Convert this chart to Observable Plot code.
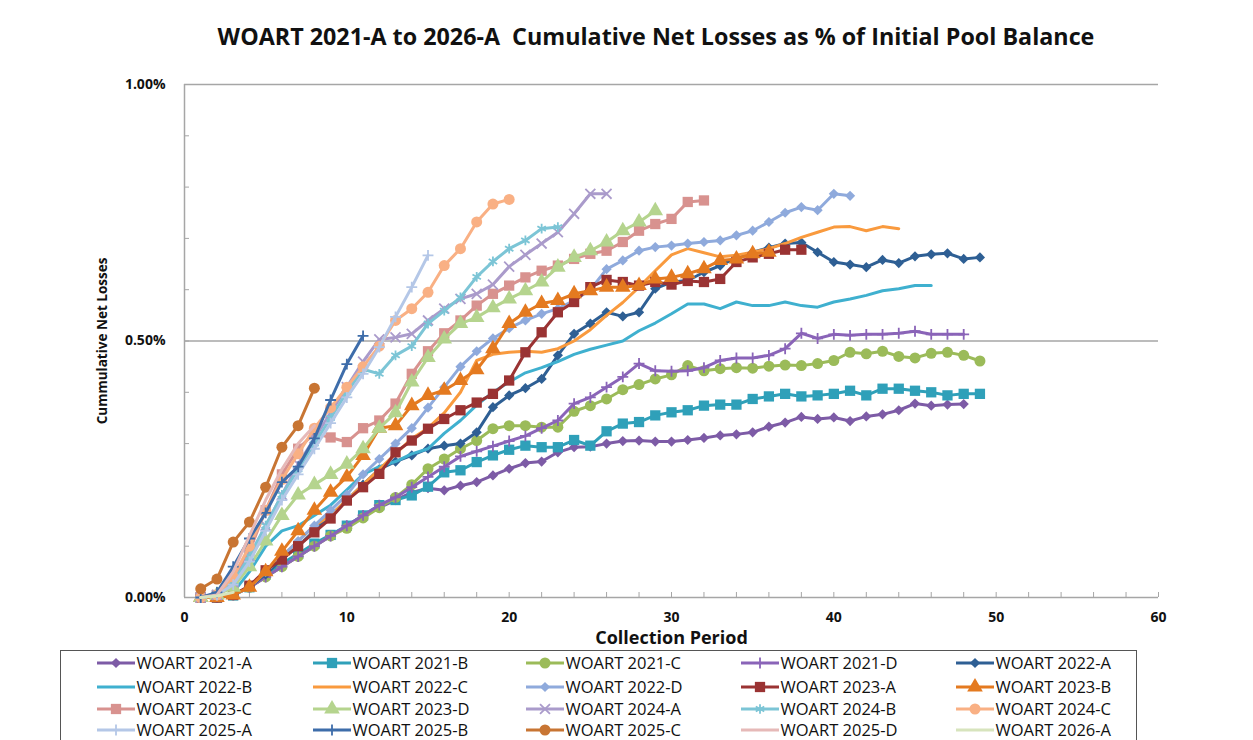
<!DOCTYPE html>
<html><head><meta charset="utf-8">
<script src="https://cdn.jsdelivr.net/npm/d3@7"></script>
<script src="https://cdn.jsdelivr.net/npm/@observablehq/plot@0.6"></script>
<style>
body{margin:0;background:#fff;font-family:"Open Sans",sans-serif;}
#wrap{position:relative;width:1253px;height:740px;overflow:hidden;background:#fff;}
#title{position:absolute;left:0;top:20px;width:1312px;text-align:center;font-weight:bold;font-size:23.3px;line-height:32px;white-space:pre;color:#111;}
#chart{position:absolute;left:0;top:70px;}
#legend{position:absolute;left:60px;top:650px;width:1077px;height:110px;border:1.5px solid #555;box-sizing:border-box;}
.item{position:absolute;display:flex;align-items:center;font-size:16.5px;line-height:18px;color:#111;white-space:nowrap;}
.item svg{margin-right:2px;}
</style></head>
<body><div id="wrap"><div id="title">WOART 2021-A to 2026-A  Cumulative Net Losses as % of Initial Pool Balance</div><div id="chart"></div><div id="legend"></div></div>
<script>
// ---- Data (cumulative net losses, % of initial pool balance, by collection period starting at 1) ----
const seriesNames = ["WOART 2021-A","WOART 2021-B","WOART 2021-C","WOART 2021-D","WOART 2022-A",
  "WOART 2022-B","WOART 2022-C","WOART 2022-D","WOART 2023-A","WOART 2023-B",
  "WOART 2023-C","WOART 2023-D","WOART 2024-A","WOART 2024-B","WOART 2024-C",
  "WOART 2025-A","WOART 2025-B","WOART 2025-C","WOART 2025-D","WOART 2026-A"];

const woart2021A = [0,0,0.005,0.02,0.04,0.06,0.08,0.10,0.12,0.14,0.16,0.175,0.19,0.205,0.213,0.209,0.218,0.225,0.238,0.251,0.262,0.265,0.283,0.293,0.294,0.30,0.305,0.306,0.304,0.304,0.307,0.311,0.316,0.318,0.322,0.333,0.341,0.352,0.348,0.351,0.344,0.353,0.357,0.365,0.378,0.374,0.376,0.377];
const woart2021B = [0,0,0.004,0.02,0.045,0.066,0.085,0.105,0.122,0.14,0.16,0.18,0.19,0.199,0.216,0.244,0.248,0.264,0.277,0.288,0.296,0.293,0.293,0.307,0.296,0.324,0.339,0.342,0.355,0.361,0.365,0.374,0.376,0.376,0.387,0.392,0.397,0.392,0.394,0.397,0.403,0.394,0.407,0.407,0.403,0.40,0.394,0.397,0.397];
const woart2021C = [0,0,0.005,0.02,0.04,0.06,0.08,0.10,0.12,0.135,0.155,0.175,0.195,0.22,0.251,0.27,0.29,0.306,0.329,0.335,0.335,0.332,0.332,0.363,0.374,0.387,0.405,0.415,0.426,0.434,0.452,0.442,0.446,0.448,0.447,0.451,0.453,0.452,0.456,0.462,0.478,0.475,0.48,0.47,0.467,0.476,0.478,0.472,0.461];
const woart2021D = [0,0,0.005,0.02,0.04,0.06,0.08,0.10,0.12,0.14,0.16,0.18,0.195,0.215,0.235,0.255,0.275,0.285,0.295,0.305,0.315,0.33,0.345,0.378,0.39,0.41,0.43,0.456,0.442,0.441,0.442,0.448,0.462,0.467,0.467,0.472,0.485,0.515,0.505,0.513,0.511,0.513,0.513,0.515,0.519,0.513,0.513,0.513];
const woart2022A = [0,0,0.005,0.02,0.045,0.075,0.10,0.13,0.16,0.19,0.22,0.25,0.265,0.277,0.29,0.296,0.30,0.322,0.371,0.394,0.408,0.426,0.472,0.514,0.534,0.556,0.548,0.556,0.602,0.615,0.618,0.634,0.647,0.663,0.673,0.682,0.69,0.692,0.673,0.654,0.649,0.644,0.658,0.652,0.665,0.669,0.671,0.66,0.663];
const woart2022B = [0,0,0.01,0.05,0.10,0.13,0.14,0.16,0.18,0.21,0.24,0.255,0.265,0.28,0.29,0.32,0.345,0.375,0.40,0.42,0.438,0.448,0.46,0.474,0.484,0.492,0.50,0.52,0.535,0.553,0.572,0.572,0.563,0.576,0.569,0.569,0.576,0.569,0.566,0.576,0.582,0.589,0.598,0.602,0.608,0.608];
const woart2022C = [0,0,0.005,0.02,0.05,0.08,0.11,0.14,0.16,0.19,0.22,0.25,0.28,0.31,0.33,0.36,0.40,0.462,0.474,0.478,0.48,0.478,0.485,0.50,0.522,0.55,0.575,0.605,0.637,0.668,0.68,0.672,0.664,0.667,0.673,0.68,0.69,0.702,0.712,0.722,0.723,0.715,0.723,0.719];
const woart2022D = [0,0,0.005,0.02,0.05,0.08,0.11,0.14,0.17,0.20,0.24,0.27,0.30,0.33,0.37,0.41,0.45,0.48,0.505,0.525,0.54,0.553,0.563,0.579,0.60,0.64,0.657,0.676,0.683,0.686,0.69,0.693,0.696,0.706,0.715,0.732,0.75,0.761,0.755,0.787,0.783];
const woart2023A = [0,0,0.005,0.023,0.053,0.074,0.10,0.127,0.154,0.189,0.215,0.241,0.283,0.306,0.329,0.348,0.365,0.38,0.397,0.423,0.478,0.517,0.556,0.576,0.605,0.619,0.615,0.608,0.615,0.61,0.617,0.615,0.621,0.654,0.663,0.67,0.678,0.678];
const woart2023B = [0,0,0.005,0.02,0.05,0.09,0.13,0.17,0.205,0.235,0.277,0.33,0.335,0.374,0.394,0.404,0.423,0.444,0.485,0.534,0.556,0.573,0.579,0.592,0.598,0.605,0.605,0.608,0.621,0.624,0.631,0.641,0.657,0.66,0.67,0.673];
const woart2023C = [0,0.005,0.03,0.09,0.17,0.24,0.29,0.32,0.312,0.303,0.33,0.345,0.378,0.436,0.48,0.515,0.54,0.569,0.592,0.608,0.624,0.637,0.647,0.66,0.67,0.676,0.693,0.715,0.728,0.738,0.771,0.774];
const woart2023D = [0,0.005,0.02,0.06,0.11,0.16,0.20,0.22,0.24,0.26,0.29,0.33,0.36,0.42,0.468,0.504,0.534,0.546,0.565,0.582,0.598,0.615,0.644,0.663,0.676,0.693,0.715,0.732,0.754];
const woart2024A = [0,0.005,0.03,0.08,0.14,0.20,0.26,0.31,0.36,0.41,0.46,0.503,0.507,0.514,0.54,0.563,0.582,0.592,0.61,0.645,0.668,0.69,0.712,0.748,0.787,0.787];
const woart2024B = [0,0.005,0.03,0.08,0.14,0.20,0.25,0.30,0.35,0.40,0.445,0.436,0.472,0.49,0.534,0.559,0.585,0.625,0.655,0.68,0.696,0.719,0.722];
const woart2024C = [0,0.005,0.04,0.10,0.17,0.23,0.28,0.33,0.37,0.41,0.45,0.49,0.54,0.563,0.595,0.647,0.68,0.732,0.767,0.776];
const woart2025A = [0,0.005,0.025,0.07,0.13,0.19,0.24,0.29,0.34,0.39,0.436,0.488,0.547,0.605,0.667];
const woart2025B = [0,0.01,0.06,0.115,0.165,0.225,0.255,0.31,0.385,0.455,0.51];
const woart2025C = [0.017,0.036,0.108,0.147,0.215,0.293,0.335,0.408];
const woart2025D = [0,0.005,0.05,0.12,0.19,0.25,0.30,0.335];
const woart2026A = [0,0.003,0.01];

const seriesValues = [woart2021A,woart2021B,woart2021C,woart2021D,woart2022A,woart2022B,woart2022C,woart2022D,
  woart2023A,woart2023B,woart2023C,woart2023D,woart2024A,woart2024B,woart2024C,woart2025A,woart2025B,woart2025C,woart2025D,woart2026A];

const xTickValues = [0,10,20,30,40,50,60];
const yTickValues = [0,0.5,1.0];

// ---- Styles ----
const seriesColors = ["#7D5BA6","#2FA0B9","#9BBB59","#8A64B8","#2E5F94",
  "#3FB0CF","#F99A3E","#8FAADC","#9A3333","#E47A20",
  "#D8928F","#B5D48E","#AA9BCB","#7CC5D6","#F9B084",
  "#B4C7E7","#3E6DAA","#C87533","#E6B9B8","#D7E4BD"];
const seriesSymbols = ["diamond2","square","circle","plus","diamond2",
  null,null,"diamond2","square","triangle",
  "square","triangle","times","asterisk","circle",
  "plus","plus","circle",null,null];
const symbolR = {diamond2:4.6, square:5.8, circle:5.5, triangle:5.8, plus:3.6, times:4.6, asterisk:4.6};
const strokeSymbols = new Set(["plus","times","asterisk"]);
const d3Sym = {diamond2:d3.symbolDiamond2, square:d3.symbolSquare, circle:d3.symbolCircle, triangle:d3.symbolTriangle,
  plus:d3.symbolPlus, times:d3.symbolTimes, asterisk:d3.symbolAsterisk};

const rows = seriesNames.map((name, i) => seriesValues[i].map((v, j) => ({series: name, period: j + 1, value: v})));

const W = 1253, H = 580, mL = 184, mR = 95, mT = 14, mB = 53;
const plotW = W - mL - mR, plotH = H - mT - mB;
const gridColor = "#a6a6a6";

const marks = [
  Plot.ruleY([0.5, 1.0], {stroke: gridColor, strokeWidth: 1.5}),
  Plot.ruleX([0], {stroke: gridColor, strokeWidth: 1.5}),
  Plot.ruleY([0], {stroke: gridColor, strokeWidth: 1.5}),
  Plot.ruleX(d3.range(2, 61, 2), {stroke: gridColor, insetTop: plotH - 5}),
  Plot.ruleY(d3.range(0.1, 1.0, 0.1), {stroke: gridColor, insetRight: plotW - 5}),
  Plot.axisX({ticks: xTickValues, tickSize: 0, tickPadding: 15, tickFormat: d => String(d), label: null}),
  Plot.axisY({ticks: yTickValues, tickSize: 0, tickPadding: 19, tickFormat: d => d.toFixed(2) + "%", label: null}),
  Plot.text(["Collection Period"], {text: d => d, frameAnchor: "bottom", dy: 46, fontSize: 18}),
  Plot.text(["Cummulative Net Losses"], {text: d => d, frameAnchor: "left", textAnchor: "middle", rotate: -90, dx: -82, fontSize: 13.5})
];
seriesNames.forEach((name, i) => {
  marks.push(Plot.line(rows[i], {x: "period", y: "value", stroke: "series", strokeWidth: 3, strokeLinejoin: "round", strokeLinecap: "round"}));
  const s = seriesSymbols[i];
  if (s) {
    if (strokeSymbols.has(s)) {
      marks.push(Plot.dot(rows[i], {x: "period", y: "value", stroke: "series", symbol: s, r: symbolR[s], strokeWidth: 1.8}));
    } else {
      marks.push(Plot.dot(rows[i], {x: "period", y: "value", fill: "series", symbol: s, r: symbolR[s]}));
    }
  }
});

const chart = Plot.plot({
  width: W, height: H,
  marginLeft: mL, marginRight: mR, marginTop: mT, marginBottom: mB,
  style: {fontFamily: "'Open Sans', sans-serif", fontSize: "14px", fontWeight: "bold", color: "#111", background: "transparent"},
  x: {domain: [0, 60]},
  y: {domain: [0, 1]},
  color: {domain: seriesNames, range: seriesColors},
  marks
});
document.getElementById("chart").appendChild(chart);

// ---- Legend ----
const legend = document.getElementById("legend");
const colX = [97, 313, 526, 741, 956];
const rowY = [663, 687, 709, 730];
seriesNames.forEach((name, i) => {
  const c = i % 5, r = Math.floor(i / 5);
  const item = document.createElement("div");
  item.className = "item";
  item.style.left = (colX[c] - 60 - 1.5) + "px";
  item.style.top = (rowY[r] - 650 - 1.5 - 9) + "px";
  item.style.height = "18px";
  const svg = d3.create("svg").attr("width", 38).attr("height", 18);
  svg.append("line").attr("x1", 0).attr("x2", 38).attr("y1", 9).attr("y2", 9)
    .attr("stroke", seriesColors[i]).attr("stroke-width", 3);
  const s = seriesSymbols[i];
  if (s) {
    const rr = symbolR[s];
    const p = svg.append("path").attr("transform", "translate(19,9)")
      .attr("d", d3.symbol(d3Sym[s], Math.PI * rr * rr)());
    if (strokeSymbols.has(s)) p.attr("fill", "none").attr("stroke", seriesColors[i]).attr("stroke-width", 1.8);
    else p.attr("fill", seriesColors[i]);
  }
  item.appendChild(svg.node());
  const t = document.createElement("span");
  t.textContent = name;
  item.appendChild(t);
  legend.appendChild(item);
});
</script>
</body></html>
